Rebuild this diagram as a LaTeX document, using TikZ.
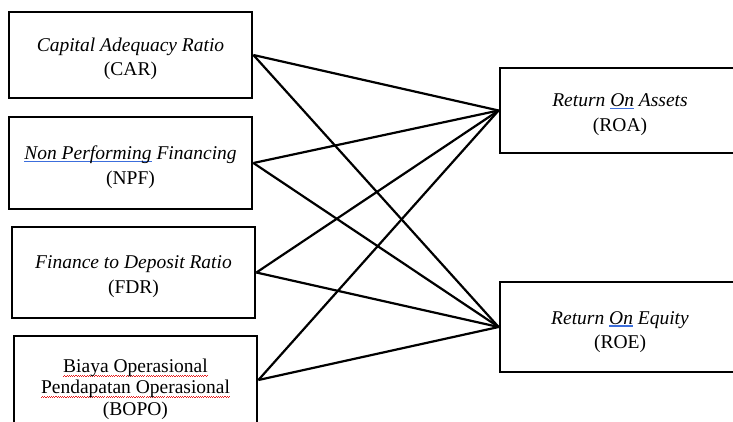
\documentclass[tikz,border=0pt]{standalone}
\usepackage{fontspec}
\setmainfont{Liberation Serif}
\definecolor{ulblue}{RGB}{60,110,220}
\definecolor{ulred}{RGB}{230,30,30}
\newlength\ulw
\newcommand\wavepiece{\hbox{\textcolor{ulred}{\rule[0pt]{1.1pt}{0.9pt}\rule[0.9pt]{1.1pt}{0.9pt}}}}
\newcommand\bluline[1]{\leavevmode\settowidth\ulw{#1}\rlap{\color{ulblue}\rule[-2.5pt]{\ulw}{1.4pt}}#1}
\newcommand\redwave[1]{\leavevmode\settowidth\ulw{#1}\rlap{\raisebox{-4.5pt}{\hbox to\ulw{\xleaders\wavepiece\hfill}}}#1}
\begin{document}
\begin{tikzpicture}[x=1pt,y=-1pt,
  box/.style={draw, line width=2.8pt, inner sep=0pt},
  lbl/.style={inner sep=0pt, align=center, font=\fontsize{19.5}{24.5}\selectfont},
  link/.style={line width=2.2pt}]
\useasboundingbox (0,0) rectangle (733,421);
\clip (0,0) rectangle (733,421);
\node[box, minimum width=243pt, minimum height=86pt] (car) at (130.5,55) {};
\node[box, minimum width=243pt, minimum height=92pt] (npf) at (130.5,163) {};
\node[box, minimum width=243pt, minimum height=91pt] (fdr) at (133.5,272.5) {};
\node[box, minimum width=243pt, minimum height=88pt] (bopo) at (135.5,380) {};
\node[box, minimum width=240pt, minimum height=85pt] (roa) at (620,110.5) {};
\node[box, minimum width=240pt, minimum height=90pt] (roe) at (620,327) {};
\node[lbl] (cart) at ([yshift=-4pt]car.center)
  {\textit{Capital Adequacy Ratio}\\(CAR)};
\node[lbl] (npft) at ([yshift=-4pt]npf.center)
  {\mbox{}\textit{\bluline{Non Performing} Financing}\\(NPF)};
\node[lbl] (fdrt) at ([yshift=-4pt]fdr.center)
  {\textit{Finance to Deposit Ratio}\\(FDR)};
\node[lbl, font=\fontsize{19.5}{21.5}\selectfont] (bopot) at ([yshift=-9pt]bopo.center)
  {\redwave{Biaya Operasional}\\\redwave{Pendapatan Operasional}\\(BOPO)};
\node[lbl] (roat) at ([yshift=-4pt]roa.center)
  {\textit{Return \bluline{On} Assets}\\(ROA)};
\node[lbl] (roet) at ([yshift=-5pt]roe.center)
  {\textit{Return \bluline{On} Equity}\\(ROE)};
\foreach \s in {car,npf,fdr,bopo}{
  \draw[link] (\s.east) -- (roa.west);
  \draw[link] (\s.east) -- (roe.west);
}
\end{tikzpicture}
\end{document}
